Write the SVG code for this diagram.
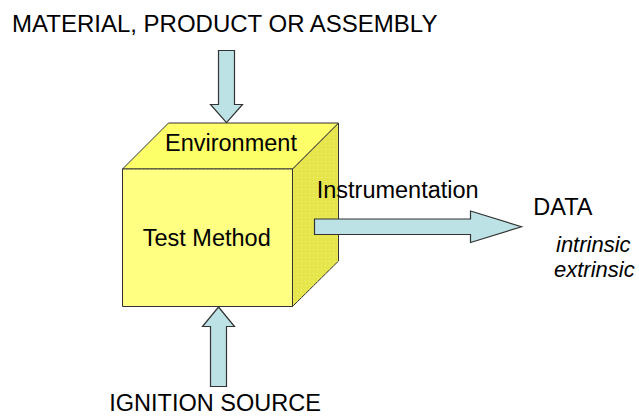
<svg xmlns="http://www.w3.org/2000/svg" width="639" height="416" viewBox="0 0 639 416">
  <defs>
    <pattern id="dots" width="4" height="4" patternUnits="userSpaceOnUse">
      <rect x="1" y="1" width="1" height="1" fill="#ffffff" fill-opacity="0.35"/>
    </pattern>
    <style>
      .lbl { font-family: "Liberation Sans", Arial, sans-serif; font-size: 23.5px; fill: #000; }
      .it { font-style: italic; font-size: 22px; }
      .face { stroke: #333; stroke-width: 1; stroke-linejoin: round; }
      .arrow { fill: #bde2e5; stroke: #333; stroke-width: 1.2; stroke-linejoin: miter; }
    </style>
  </defs>
  <rect width="639" height="416" fill="#ffffff"/>

  <!-- Test cube -->
  <g id="test-method">
    <polygon class="face" points="292.5,169 338.5,123 338.5,261 292.5,306.5" fill="#e6e64a"/>
    <polygon points="292.5,169 338.5,123 338.5,261 292.5,306.5" fill="url(#dots)"/>
    <polygon class="face" points="122.5,169 168.5,123 338.5,123 292.5,169" fill="#ffff66"/>
    <polygon points="122.5,169 168.5,123 338.5,123 292.5,169" fill="url(#dots)"/>
    <rect class="face" x="122.5" y="169" width="170" height="137.5" fill="#ffff80"/>
    <rect x="122.5" y="169" width="170" height="137.5" fill="url(#dots)"/>
    <text class="lbl" x="165" y="151">Environment</text>
    <text class="lbl" x="142.7" y="245.7">Test Method</text>
  </g>

  <!-- Block arrows -->
  <g id="connectors">
    <polygon class="arrow" points="218.5,50.5 234.5,50.5 234.5,104.5 242.5,104.5 226.5,122.7 210.5,104.5 218.5,104.5"/>
    <polygon class="arrow" points="218.5,307 234.5,326.5 226.5,326.5 226.5,386.5 210.5,386.5 210.5,326.5 202.5,326.5"/>
    <polygon class="arrow" points="314.5,219 470.5,219 470.5,211 521.5,226.8 470.5,242.5 470.5,234.5 314.5,234.5"/>
  </g>

  <g id="material">
    <text class="lbl" x="12" y="31.5" style="font-size:24px">MATERIAL, PRODUCT OR ASSEMBLY</text>
  </g>
  <g id="ignition">
    <text class="lbl" x="109.3" y="410.5">IGNITION SOURCE</text>
  </g>
  <g id="instrumentation">
    <text class="lbl" x="316.7" y="198">Instrumentation</text>
  </g>
  <g id="data">
    <text class="lbl" x="533.3" y="215">DATA</text>
    <text class="lbl it" x="556" y="251.7">intrinsic</text>
    <text class="lbl it" x="554" y="277.3">extrinsic</text>
  </g>
</svg>
